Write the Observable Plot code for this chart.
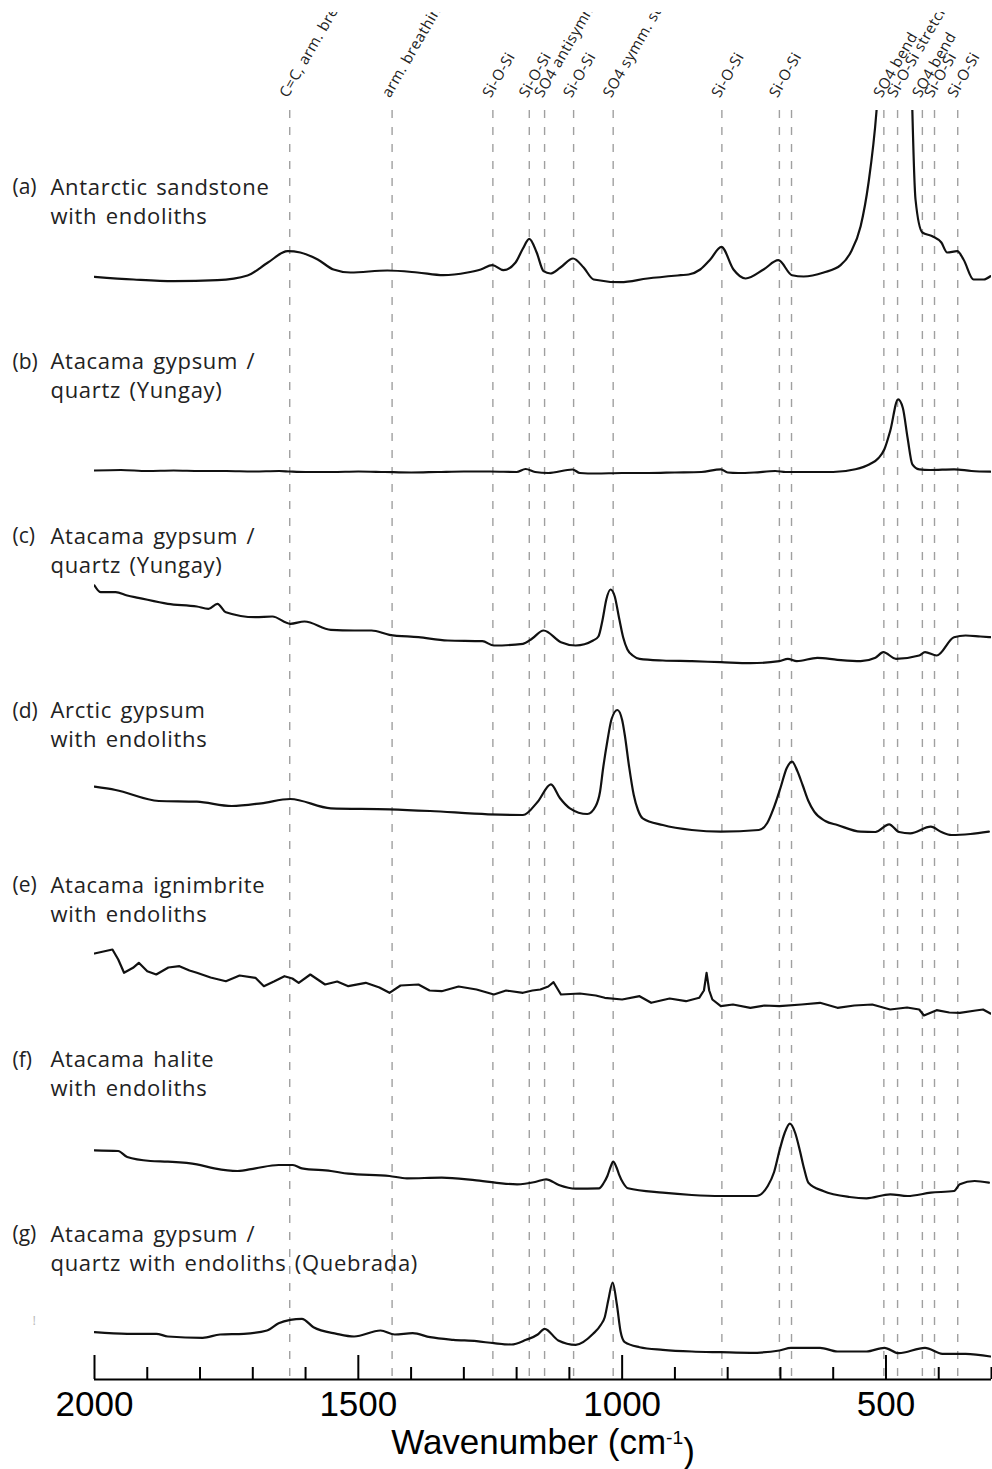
<!DOCTYPE html>
<html>
<head>
<meta charset="utf-8">
<script src="https://cdn.jsdelivr.net/npm/d3@7"></script>
<script src="https://cdn.jsdelivr.net/npm/@observablehq/plot@0.6"></script>
<style>
html, body { margin: 0; padding: 0; background: #fff; }
#chart { padding-top: 12px; width: 992px; }
#chart svg { display: block; overflow: hidden; }
</style>
</head>
<body>
<div id="chart"></div>
<script>
// ---- Band assignments (dashed reference lines) ----
const bandPositions = [1630, 1436, 1245, 1176, 1147, 1092, 1017, 811, 702, 679, 504, 478, 431, 408, 364];
const bandLabels = ["C=C, arm. breathing", "arm. breathing", "Si-O-Si", "Si-O-Si", "SO4 antisymm. stretch",
  "Si-O-Si", "SO4 symm. stretch", "Si-O-Si", "Si-O-Si", "", "SO4 bend", "Si-O-Si stretch", "SO4 bend",
  "Si-O-Si", "Si-O-Si"];

// ---- Panels ----
const panelTags = ["(a)", "(b)", "(c)", "(d)", "(e)", "(f)", "(g)"];
const panelLine1 = ["Antarctic sandstone", "Atacama gypsum /", "Atacama gypsum /", "Arctic gypsum",
  "Atacama ignimbrite", "Atacama halite", "Atacama gypsum /"];
const panelLine2 = ["with endoliths", "quartz (Yungay)", "quartz (Yungay)", "with endoliths",
  "with endoliths", "with endoliths", "quartz with endoliths (Quebrada)"];

// ---- Axis ticks ----
const majorTicks = [2000, 1500, 1000, 500];
const minorTicks = [1900, 1800, 1700, 1600, 1400, 1300, 1200, 1100, 900, 800, 700, 600, 400, 300];
const axisTitle = "Wavenumber (cm-1)";

// ---- Spectra (wavenumber, relative intensity a.u.) ----
const aWn = [2000,1926,1850,1767,1710,1672,1634,1610,1577,1547,1515,1445,1388,1339,1293,1268,1246,1225,1202,1188,1176,1162,1149,1136,1117,1093,1073,1054,1003,952,889,874,852,833,812,789,766,732,704,678,656,618,586,567,548,533,518,505,490,477,465,455,450,444,431,412,395,384,365,353,334,315,302];
const aInt = [55.7,53,51.3,52.3,57,69.7,81.3,80,73,63,60,62,60,57.3,60,63,67.3,62.3,70,84,93.7,80,61.3,59,65,74,65,53,50.3,54,57.3,58,63,73,85.7,63,54,63,72.3,57.3,56,60,67.3,80,106.3,150,221,330,600,900,700,350,222,133,100,96.3,90,80,81.3,73,53,53,56.3];

const bWn = [2000,1950,1900,1850,1800,1750,1700,1650,1630,1600,1550,1500,1450,1400,1350,1300,1250,1200,1183,1165,1140,1094,1080,1050,1000,950,900,850,813,800,780,750,710,690,650,600,558,531,514,503,492,477,468,459,450,437,416,371,338,302];
const bInt = [36.5,37,36,36.5,36,36,35.5,36,35.5,35,35,35.5,35,34.5,35,35.5,35.5,35,38,35,34,37.5,34,33.5,34,34,34.5,35,37.7,34.5,34,34.5,36,35,35,35,37.7,42.7,49,57.7,76,107.7,99,69,42.7,37.7,37,37.7,36,35.3];

const cWn = [2000,1988,1960,1938,1917,1861,1806,1784,1767,1751,1695,1663,1629,1602,1552,1508,1475,1441,1386,1331,1265,1243,1188,1171,1149,1116,1088,1055,1045,1037,1030,1022,1014,1006,998,990,980,967,923,868,813,757,702,686,669,630,592,548,520,505,481,437,426,404,371,349,321,302];
const cInt = [96,89.3,89.3,86,83.7,77.7,75,72.7,77.7,69.3,64.3,65,57.7,60,51.7,51,51,46.7,44.3,41,40.3,36,37.7,42.7,51,39.3,36,41,45,62,82,92,85,64,44,32,26,22.7,21,20.3,19.3,18.3,20.3,22.7,20.3,23.7,21.7,20.3,23.7,29.3,22.7,26,29.3,26,44.3,46,45,44.3];

const dWn = [2000,1960,1878,1806,1740,1684,1629,1552,1441,1364,1254,1188,1160,1135,1118,1099,1066,1050,1042,1036,1028,1020,1009,1000,995,987,978,970,961,923,868,813,741,725,713,700,688,678,668,658,647,636,615,592,548,520,494,475,454,415,395,376,340,305];
const dInt = [69.3,66,55,54.3,50,52.7,57,47.7,46.7,45,41.7,41,54.3,71.7,58,47.7,42,50,64,88,115,137,146,136,121,90,61,46,37.7,31,26,24.3,26,33,47.7,68,88,94.3,85,71,55,44.3,35,31,24.3,24,31.7,24,22.7,29.3,24,21,22,24.3];

const eWn = [2000,1966,1955,1944,1927,1916,1900,1883,1860,1839,1820,1806,1780,1751,1725,1695,1679,1660,1640,1625,1613,1591,1563,1540,1519,1486,1460,1441,1420,1386,1365,1342,1310,1276,1243,1220,1188,1170,1155,1140,1130,1116,1080,1050,1033,1000,967,945,910,879,854,845,840,835,829,813,790,757,730,702,660,625,592,560,526,492,460,437,428,404,380,360,330,316,302];
const eInt = [77,81,71,57.7,62.7,67.7,59.3,56,63,64.3,60,57.7,53,49.3,55,52.7,44.3,49,54.3,52,47.7,56,46,49,44.3,47.7,43,37.7,45,46,40,39.3,44,41,36,40,37.7,40,41,44,48.3,36,37,35,32.7,31,34.3,27.7,32,29.3,32.7,40,57.7,40,31,24.3,26,22.7,25,24.3,26,27.7,22.7,25,26,21,23,21,15,20.3,18,17.7,20,21,17];

const fWn = [2000,1955,1938,1894,1861,1806,1773,1729,1695,1651,1624,1607,1552,1519,1441,1408,1342,1276,1199,1165,1144,1120,1088,1044,1035,1028,1022,1017,1011,1006,998,989,923,868,813,746,724,712,702,692,682,672,663,655,647,619,569,537,492,459,415,371,360,332,305];
const fInt = [54.7,54,48,44,43.3,40.7,36.7,34,36.7,40,40,36.7,34,31.3,29,26.7,27.3,24.7,20.7,23,25.7,20,16.3,16.7,22,29,38,43.3,38,30.7,22,16.7,12.3,10,9,9,19,33,54,72,81.3,72,54,36,22.3,14,8,6.7,10.7,9,12.3,14,20.7,24,22.3];

const gWn = [2000,1938,1883,1861,1795,1762,1717,1673,1651,1629,1607,1585,1541,1508,1458,1431,1397,1364,1320,1276,1243,1210,1182,1160,1147,1121,1088,1055,1040,1033,1026,1018,1010,1003,995,967,923,868,813,757,702,680,625,592,537,503,476,426,393,349,302];
const gInt = [47.3,45.7,45.7,43,41.7,45,45.7,49,56.3,59.7,60.7,52.3,45.7,43,49,45,46.3,42.3,39.7,38.3,36.3,35,39.7,45,50.7,39,34.7,45.7,55,62.3,80,97,75,48,37.3,32.3,29.7,28,27.3,26.7,29,31.7,31.7,28,28,31.7,26.3,31.7,25.7,25.7,23];

// ---- layout (not data) ----
const panelStep = 174.5, labelLift = 145;
const labelFont = "'Open Sans', 'Noto Sans', sans-serif";
const axisFont = "'Liberation Sans Narrow', 'Arial Narrow', 'Liberation Sans', sans-serif";

const spectra = [[aWn, aInt], [bWn, bInt], [cWn, cInt], [dWn, dInt], [eWn, eInt], [fWn, fInt], [gWn, gInt]];
const offsets = panelTags.map((_, i) => (panelTags.length - 1 - i) * panelStep);
const rows = spectra.flatMap(([wn, it], i) => wn.map((w, j) => ({panel: panelTags[i], wn: w, y: offsets[i] + it[j]})));
const smoothRows = rows.filter(r => r.panel !== "(e)");
const noisyRows = rows.filter(r => r.panel === "(e)");
const labels = panelTags.map((t, i) => ({tag: t, l1: panelLine1[i], l2: panelLine2[i], y: offsets[i] + labelLift}));
const bands = bandPositions.map((p, i) => ({pos: p, label: bandLabels[i]}));

const plot = Plot.plot({
  width: 992,
  height: 1457,
  marginLeft: 94,
  marginRight: 1,
  marginTop: 98,
  marginBottom: 90,
  x: {domain: [2000, 300], axis: null},
  y: {domain: [0, 1269], axis: null},
  style: {background: "white", overflow: "hidden"},
  marks: [
    Plot.ruleX(bands, {x: "pos", stroke: "#a0a0a0", strokeWidth: 1.4, strokeDasharray: "8,9"}),
    Plot.text(bands, {x: "pos", text: "label", frameAnchor: "top", rotate: -60, textAnchor: "start",
      lineAnchor: "bottom", dx: -2, dy: -12, fontSize: 15, fontFamily: labelFont, fill: "#222",
      className: "band-label"}),
    Plot.line(smoothRows, {x: "wn", y: "y", z: "panel", stroke: "#111", strokeWidth: 2.2, clip: "frame",
      curve: "monotone-x"}),
    Plot.line(noisyRows, {x: "wn", y: "y", z: "panel", stroke: "#111", strokeWidth: 2.2, clip: "frame"}),
    Plot.text(labels, {y: "y", text: "tag", frameAnchor: "left", dx: -82, textAnchor: "start",
      fontSize: 21, fontFamily: labelFont, fill: "#222"}),
    Plot.text(labels, {y: "y", text: "l1", frameAnchor: "left", dx: -44, textAnchor: "start",
      fontSize: 22, fontFamily: labelFont, fill: "#222", className: "panel-label"}),
    Plot.text(labels, {y: "y", text: "l2", frameAnchor: "left", dx: -44, dy: 29, textAnchor: "start",
      fontSize: 22, fontFamily: labelFont, fill: "#222", className: "panel-label"}),
    Plot.text(["!"], {y: [59], frameAnchor: "left", dx: -62, fontSize: 13, fill: "#bbb", fontFamily: labelFont}),
    Plot.ruleY([0], {stroke: "#000", strokeWidth: 2}),
    Plot.axisX({ticks: minorTicks, anchor: "bottom", tickSize: -12, tickFormat: () => "", label: null, strokeWidth: 2}),
    Plot.axisX({ticks: majorTicks, anchor: "bottom", tickSize: -24, tickFormat: () => "", label: null, strokeWidth: 2}),
    Plot.text(majorTicks, {x: d => d, text: d => String(d), frameAnchor: "bottom", lineAnchor: "top", dy: 12,
      fontSize: 35, fontFamily: axisFont, fill: "#000"}),
    Plot.text([axisTitle], {frameAnchor: "bottom", lineAnchor: "top", dy: 50, fontSize: 35, fontFamily: axisFont,
      fill: "#000", className: "xtitle"})
  ]
});

document.getElementById("chart").append(plot);

const svg = d3.select(plot);
svg.selectAll("g.panel-label text").style("letter-spacing", "0.7px").style("word-spacing", "2px");
svg.selectAll("g.band-label text").style("letter-spacing", "0.5px");

// superscript for cm-1
svg.selectAll("g.xtitle text").each(function () {
  const t = d3.select(this);
  t.text(null);
  t.append("tspan").text("Wavenumber (cm");
  t.append("tspan").attr("dy", "-0.55em").attr("font-size", "55%").text("-1");
  t.append("tspan").attr("dy", "0.55em").text(")");
});
</script>
</body>
</html>
